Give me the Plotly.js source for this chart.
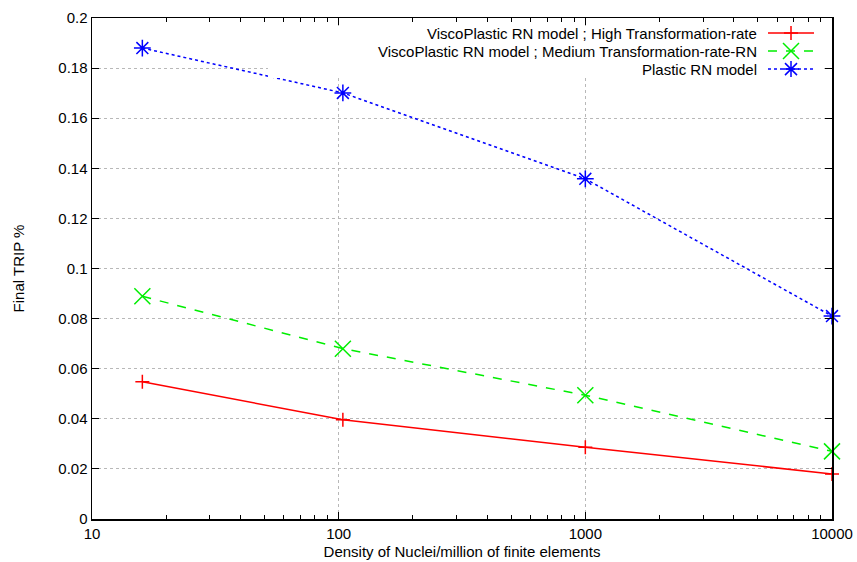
<!DOCTYPE html>
<html><head><meta charset="utf-8">
<script src="https://cdn.plot.ly/plotly-3.0.1.min.js"></script>
<style>html,body{margin:0;padding:0;background:#fff}#chart{width:857px;height:562px}</style>
</head><body><div id="chart"></div>
<script>
// ---- data ----
const density = [16, 104, 1000, 10000];
const highRate = [0.0548, 0.0396, 0.0286, 0.0180];
const mediumRate = [0.0889, 0.0680, 0.0494, 0.0270];
const plastic = [0.1880, 0.1701, 0.1358, 0.0810];
const seriesNames = [
  'ViscoPlastic RN model ; High Transformation-rate',
  'ViscoPlastic RN model ; Medium Transformation-rate-RN',
  'Plastic RN model'
];
const xTickVals = [10, 100, 1000, 10000];
const xTickText = ['10', '100', '1000', '10000'];
const xMinorVals = [20,30,40,50,60,70,80,90,200,300,400,500,600,700,800,900,2000,3000,4000,5000,6000,7000,8000,9000];
const yTickVals = [0, 0.02, 0.04, 0.06, 0.08, 0.1, 0.12, 0.14, 0.16, 0.18, 0.2];
const yTickText = ['0', '0.02', '0.04', '0.06', '0.08', '0.1', '0.12', '0.14', '0.16', '0.18', '0.2'];
const xTitle = 'Density of Nuclei/million of finite elements';
const yTitle = 'Final TRIP %';

// ---- styles ----
const colors = ['#ff0000', '#00ee00', '#0000ff'];
const dashes = ['solid', 'dash', 'dot'];
const symbols = ['cross-thin-open', 'x-thin-open', 'asterisk-open'];
const sizes = [10, 16, 14];
const font = {family: 'Liberation Sans, Arial, Helvetica, sans-serif', size: 15, color: '#000'};

const ys = [highRate, mediumRate, plastic];
const traces = ys.map((y, i) => ({
  x: density, y: y, name: seriesNames[i], type: 'scatter', mode: 'lines+markers',
  line: {color: colors[i], width: 1.5, dash: dashes[i]},
  marker: {symbol: symbols[i], size: sizes[i], color: colors[i], line: {color: colors[i], width: 1.5}},
  cliponaxis: false, showlegend: false
}));

// custom gnuplot-style legend (text right, sample on the right)
const rows = [0.970, 0.934, 0.898];
const markerPaths = [
  'M-7,0H7M0,-7V7',
  'M-8,-8L8,8M-8,8L8,-8',
  'M-8,0H8M0,-8V8M-6,-6L6,6M-6,6L6,-6'
];
const shapes = [{
  type: 'rect', xref: 'paper', yref: 'paper', x0: 0.2378, x1: 0.989, y0: 0.880, y1: 0.984,
  fillcolor: '#ffffff', line: {width: 0}, layer: 'above'
}];
const annotations = [];
rows.forEach((ry, i) => {
  shapes.push({type: 'line', xref: 'paper', yref: 'paper', x0: 0.9135, x1: 0.9757, y0: ry, y1: ry,
    line: {color: colors[i], width: 1.5, dash: dashes[i]}, layer: 'above'});
  shapes.push({type: 'path', xref: 'paper', yref: 'paper', xsizemode: 'pixel', ysizemode: 'pixel',
    xanchor: 0.9446, yanchor: ry, path: markerPaths[i], line: {color: colors[i], width: 1.5}, layer: 'above'});
  annotations.push({xref: 'paper', yref: 'paper', x: 0.9014, y: ry, xanchor: 'right', yanchor: 'middle',
    text: seriesNames[i], showarrow: false, font: font});
});

const layout = {
  width: 857, height: 562,
  margin: {l: 92, r: 25, t: 18, b: 43},
  paper_bgcolor: '#fff', plot_bgcolor: '#fff',
  font: font,
  showlegend: false,
  xaxis: {
    type: 'log', range: [1, 4],
    tickmode: 'array', tickvals: xTickVals, ticktext: xTickText,
    ticks: 'inside', ticklen: 7, tickwidth: 1, tickcolor: '#000',
    showline: true, linecolor: '#000', linewidth: 1.5, mirror: 'ticks',
    showgrid: true, gridcolor: '#b8b8b8', griddash: 'dot', gridwidth: 1,
    zeroline: false,
    minor: {tickmode: 'array', tickvals: xMinorVals, ticks: 'inside', ticklen: 4, tickcolor: '#000', showgrid: false},
    title: {text: xTitle, font: font, standoff: 6},
    tickfont: font
  },
  yaxis: {
    range: [0, 0.2],
    tickmode: 'array', tickvals: yTickVals, ticktext: yTickText,
    ticks: 'inside', ticklen: 7, tickwidth: 1, tickcolor: '#000',
    showline: true, linecolor: '#000', linewidth: 1.5, mirror: 'ticks',
    showgrid: true, gridcolor: '#b8b8b8', griddash: 'dot', gridwidth: 1,
    zeroline: false,
    title: {text: yTitle, font: font, standoff: 30},
    tickfont: font
  },
  shapes: shapes,
  annotations: annotations
};

Plotly.newPlot('chart', traces, layout, {displayModeBar: false, staticPlot: true});
</script>
</body></html>
